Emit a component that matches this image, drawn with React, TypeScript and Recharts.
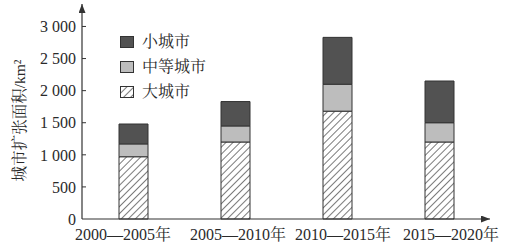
import React from 'react';
import { BarChart, Bar, XAxis, YAxis, Legend } from 'recharts';

const periods = ['2000—2005年', '2005—2010年', '2010—2015年', '2015—2020年'];
const largeCity = [970, 1200, 1680, 1200];
const mediumCity = [200, 250, 420, 300];
const smallCity = [310, 380, 730, 650];
const yTicks = [0, 500, 1000, 1500, 2000, 2500, 3000];
const yLabel = '城市扩张面积/km²';
const seriesNames = { small: '小城市', medium: '中等城市', large: '大城市' };

const data = periods.map((p, i) => ({
  period: p,
  large: largeCity[i],
  medium: mediumCity[i],
  small: smallCity[i],
}));

const FONT = "'Liberation Serif', 'Times New Roman', 'Noto Serif CJK SC', 'Noto Sans CJK SC', serif";
const TEXT = '#2a2a2a';
const STROKE = '#333';
const DARK = '#525252';
const LIGHT = '#bdbdbd';
const Y_TICK_MARGIN = 6;
// horizontal shift of each category label relative to its bar (layout only)
const X_LABEL_SHIFT = [-10, 3, 6, 12];

const fmt = (v: number) => (v >= 1000 ? `${Math.floor(v / 1000)} ${String(v % 1000).padStart(3, '0')}` : String(v));

const YTick = (props: any) => {
  const { x, y, payload } = props;
  const axisX = x + Y_TICK_MARGIN;
  return (
    <g>
      {payload.value !== 0 && <line x1={axisX} x2={axisX + 4} y1={y} y2={y} stroke={STROKE} strokeWidth={1} />}
      <text x={x} y={y} dy="0.355em" textAnchor="end" fontSize={16} fontFamily={FONT} fill={TEXT}>
        {fmt(payload.value)}
      </text>
    </g>
  );
};

const XTick = (props: any) => {
  const { x, y, payload, index } = props;
  return (
    <text x={x + (X_LABEL_SHIFT[index] || 0)} y={y} dy="0.71em" textAnchor="middle" fontSize={16} fontFamily={FONT} fill={TEXT}>
      {payload.value}
    </text>
  );
};

const HatchDefs = ({ id }: { id: string }) => (
  <pattern id={id} patternUnits="userSpaceOnUse" width={5} height={5} patternTransform="rotate(45)">
    <rect width={5} height={5} fill="#fff" />
    <line x1={0} y1={0} x2={0} y2={5} stroke="#222" strokeWidth={1.2} />
  </pattern>
);

const LegendContent = () => {
  const items = [
    { name: seriesNames.small, fill: DARK },
    { name: seriesNames.medium, fill: LIGHT },
    { name: seriesNames.large, fill: 'url(#hatchLegend)' },
  ];
  return (
    <div style={{ fontFamily: FONT, color: TEXT, fontSize: 16 }}>
      {items.map((it, i) => (
        <div key={i} style={{ display: 'flex', alignItems: 'center', height: 25 }}>
          <svg width={14} height={12} style={{ display: 'block', marginRight: 8 }}>
            <defs>
              <HatchDefs id="hatchLegend" />
            </defs>
            <rect x={0.5} y={0.5} width={13} height={11} fill={it.fill} stroke={STROKE} strokeWidth={1} />
          </svg>
          <span style={{ lineHeight: '16px' }}>{it.name}</span>
        </div>
      ))}
    </div>
  );
};

const YLabel = (props: any) => {
  const { viewBox } = props;
  const cx = viewBox.x + 19;
  const cy = viewBox.y + viewBox.height / 2 + 9;
  return (
    <text
      x={cx}
      y={cy}
      transform={`rotate(-90, ${cx}, ${cy})`}
      textAnchor="middle"
      dominantBaseline="central"
      fontSize={15.5}
      fontFamily={FONT}
      fill={TEXT}
    >
      {yLabel}
    </text>
  );
};

export default function App() {
  return (
    <div style={{ position: 'absolute', left: 0, top: 0, width: 510, height: 248, background: '#fff' }}>
      <BarChart width={510} height={248} data={data} margin={{ top: 4, right: 20, left: 0, bottom: 0 }}>
        <defs>
          <HatchDefs id="hatchBar" />
          <marker id="arrowHead" markerWidth={9} markerHeight={7} refX={9} refY={3.5} orient="auto-start-reverse" markerUnits="userSpaceOnUse" viewBox="0 0 9 7">
            <path d="M0,0 L9,3.5 L0,7 z" fill={STROKE} />
          </marker>
        </defs>
        <XAxis
          dataKey="period"
          height={29}
          tickLine={false}
          tickSize={0}
          tickMargin={10}
          axisLine={{ stroke: STROKE, strokeWidth: 1.2, markerEnd: 'url(#arrowHead)' } as any}
          tick={<XTick />}
          interval={0}
        />
        <YAxis
          width={82}
          domain={[0, 3350]}
          ticks={yTicks}
          tickLine={false}
          tickSize={0}
          tickMargin={Y_TICK_MARGIN}
          axisLine={{ stroke: STROKE, strokeWidth: 1.2, markerStart: 'url(#arrowHead)' } as any}
          tick={<YTick />}
          interval={0}
          label={<YLabel />}
        />
        <Legend
          layout="vertical"
          align="center"
          verticalAlign="middle"
          wrapperStyle={{ left: 120, top: 29, width: 120, height: 80 }}
          content={<LegendContent />}
        />
        <Bar dataKey="large" name={seriesNames.large} stackId="a" barSize={29} fill="url(#hatchBar)" stroke={STROKE} strokeWidth={1} isAnimationActive={false} />
        <Bar dataKey="medium" name={seriesNames.medium} stackId="a" barSize={29} fill={LIGHT} stroke={STROKE} strokeWidth={1} isAnimationActive={false} />
        <Bar dataKey="small" name={seriesNames.small} stackId="a" barSize={29} fill={DARK} stroke={STROKE} strokeWidth={1} isAnimationActive={false} />
      </BarChart>
    </div>
  );
}
